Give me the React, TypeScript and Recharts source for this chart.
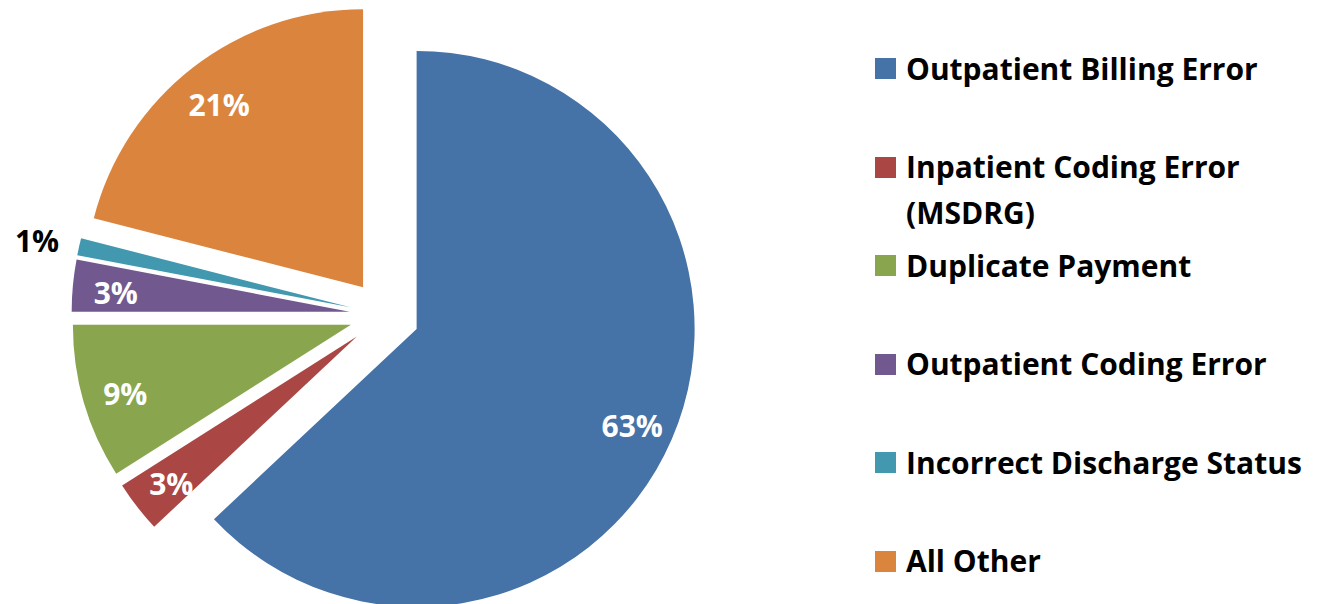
import { PieChart, Pie, Cell, Sector, Legend } from 'recharts';

const categories = [
  'Outpatient Billing Error',
  'Inpatient Coding Error (MSDRG)',
  'Duplicate Payment',
  'Outpatient Coding Error',
  'Incorrect Discharge Status',
  'All Other',
];
const shares = [63, 3, 9, 3, 1, 21];
const colors = ['#4572A7', '#AA4643', '#89A54E', '#71588F', '#4198AF', '#DB843D'];

const data = categories.map((name, i) => ({ name, value: shares[i] }));

const RADIAN = Math.PI / 180;
const EXPLODE = 35;
const FONT = '"Open Sans", sans-serif';

// move a point along the slice's mid angle
function along(x: number, y: number, angle: number, dist: number) {
  return { x: x + dist * Math.cos(-angle * RADIAN), y: y + dist * Math.sin(-angle * RADIAN) };
}

function ExplodedSector(props: any) {
  const mid = (props.startAngle + props.endAngle) / 2;
  const c = along(props.cx, props.cy, mid, EXPLODE);
  return <Sector {...props} cx={c.x} cy={c.y} />;
}

function renderLabel(props: any) {
  const { cx, cy, startAngle, endAngle, outerRadius, percent } = props;
  const mid = (startAngle + endAngle) / 2;
  const c = along(cx, cy, mid, EXPLODE);
  const outside = percent < 0.02;
  const p = along(c.x, c.y, mid, outside ? outerRadius + 43 : outerRadius * 0.845);
  return (
    <text
      x={p.x}
      y={p.y + 3}
      fill={outside ? '#000000' : '#FFFFFF'}
      textAnchor="middle"
      dominantBaseline="central"
      fontFamily={FONT}
      fontWeight={700}
      fontSize={30}
    >
      {`${Math.round(percent * 100)}%`}
    </text>
  );
}

function LegendContent({ payload }: any) {
  // keep the data order (the legend sorts by name otherwise)
  const items = [...(payload ?? [])].sort(
    (a: any, b: any) => categories.indexOf(a.value) - categories.indexOf(b.value),
  );
  return (
    <div style={{ fontFamily: FONT, fontWeight: 700, fontSize: 30, color: '#000' }}>
      {items.map((entry: any, i: number) => (
        <div key={`item-${i}`} style={{ height: 98.6, display: 'flex', alignItems: 'flex-start' }}>
          <div
            style={{ width: 21, height: 21, marginTop: 12.5, marginRight: 10, flex: 'none', backgroundColor: entry.color }}
          />
          <div style={{ lineHeight: '46px', width: 412 }}>{entry.value}</div>
        </div>
      ))}
    </div>
  );
}

export default function App() {
  return (
    <div style={{ width: 1312, height: 596, background: '#fff' }}>
      <PieChart width={1312} height={596} margin={{ top: 0, right: 0, bottom: 0, left: 0 }}>
        <Pie
          data={data}
          dataKey="value"
          nameKey="name"
          cx={376.5}
          cy={307}
          outerRadius={278}
          startAngle={90}
          endAngle={-270}
          stroke="none"
          labelLine={false}
          label={renderLabel}
          shape={ExplodedSector}
          isAnimationActive={false}
        >
          {data.map((d, i) => (
            <Cell key={d.name} fill={colors[i]} />
          ))}
        </Pie>
        <Legend
          layout="vertical"
          align="right"
          verticalAlign="middle"
          wrapperStyle={{ left: 867, top: 37.5, width: 445 }}
          content={LegendContent}
        />
      </PieChart>
    </div>
  );
}
